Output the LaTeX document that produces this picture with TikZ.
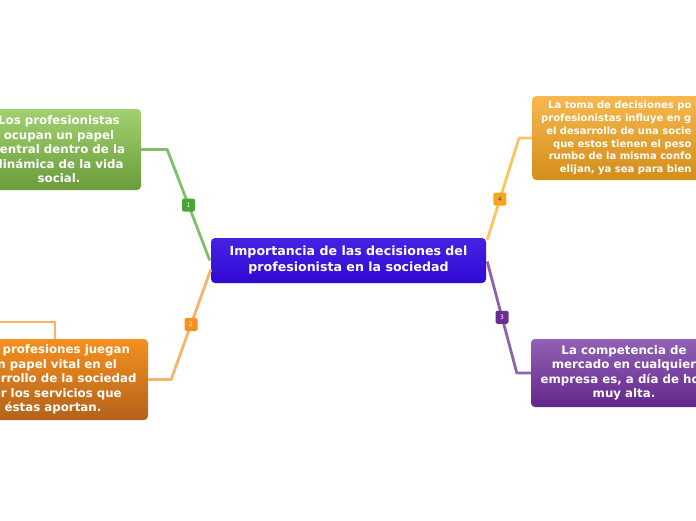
\documentclass[tikz,border=0pt]{standalone}
\usepackage{fontspec}
\setmainfont{DejaVu Sans}
\usetikzlibrary{calc}
\definecolor{azul}{HTML}{2F09D2}
\definecolor{azulalto}{HTML}{4722E4}
\definecolor{verde}{HTML}{6A9C3B}
\definecolor{verdealto}{HTML}{A1D070}
\definecolor{verdelinea}{HTML}{80BF6C}
\definecolor{verdemarca}{HTML}{4DA33A}
\definecolor{naranja}{HTML}{B2621B}
\definecolor{naranjaalto}{HTML}{F5901F}
\definecolor{naranjalinea}{HTML}{F8B26C}
\definecolor{naranjamarca}{HTML}{F7901E}
\definecolor{amarillo}{HTML}{D38E1B}
\definecolor{amarilloalto}{HTML}{F7B84E}
\definecolor{amarillolinea}{HTML}{FFC45E}
\definecolor{amarillomarca}{HTML}{F8A61C}
\definecolor{morado}{HTML}{63278B}
\definecolor{moradoalto}{HTML}{9262B6}
\definecolor{moradolinea}{HTML}{8C63AE}
\definecolor{moradomarca}{HTML}{6B2E8E}

\begin{document}
\begin{tikzpicture}[x=1pt,y=-1pt,
  idea/.style={rounded corners=4pt,align=center,text=white,inner sep=0pt,
               font=\bfseries\fontsize{11.8}{14.5}\selectfont},
  tema/.style={idea,font=\bfseries\fontsize{12.6}{16}\selectfont},
  marca/.style={rounded corners=2pt,minimum size=13pt,inner sep=0pt,text=white,
                font=\fontsize{6}{6}\selectfont},
  rama/.style={line width=2.8pt,line join=round}
]
  \useasboundingbox (0,0) rectangle (696,520);

  \node[tema,top color=azulalto,bottom color=azul,minimum width=275pt,minimum height=45pt]
    (imp) at (348.5,260.5) {Importancia de las decisiones del\\profesionista en la sociedad};

  \node[idea,top color=verdealto,bottom color=verde,minimum width=164pt,minimum height=81pt]
    (vida) at (59,149.5) {Los profesionistas\\ocupan un papel\\central dentro de la\\dinámica de la vida\\social.};
  \node[idea,top color=naranjaalto,bottom color=naranja,minimum width=190pt,minimum height=81pt]
    (prof) at (53,379.5) {Las profesiones juegan\\un papel vital en el\\desarrollo de la sociedad\\por los servicios que\\éstas aportan.};
  \node[idea,font=\bfseries\fontsize{10}{12.7}\selectfont,align=right,anchor=west,inner xsep=9pt,
        minimum height=84pt,top color=amarilloalto,bottom color=amarillo]
    (toma) at (532,138) {La toma de decisiones po\\profesionistas influye en g\\el desarrollo de una socie\\que estos tienen el peso\\rumbo de la misma confo\\elijan, ya sea para bien};
  \node[idea,top color=moradoalto,bottom color=morado,minimum width=186pt,minimum height=68pt]
    (merc) at (624,373) {La competencia de\\mercado en cualquier\\empresa es, a día de hoy\\muy alta.};

  \coordinate (fuera) at (-10,322);

  % ramas
  \draw[rama,verdelinea] (vida.east) -- ++(26,0)
    -- node[marca,fill=verdemarca] (m1) {1} ($(imp.west)+(-1,0)$);
  \draw[rama,naranjalinea] (prof.east) -- ++(23,0)
    -- node[marca,fill=naranjamarca] (m2) {2} ($(imp.west)+(0,9)$);
  \draw[rama,naranjalinea] ($(prof.north)+(2,0)$) |- (fuera);
  \draw[rama,amarillolinea] (toma.west) -- ++(-13,0)
    -- node[marca,fill=amarillomarca,text=black!70,pos=0.6] (m4) {4} ($(imp.north east)+(1,2)$);
  \draw[rama,moradolinea] ($(imp.east)+(1,1)$)
    -- node[marca,fill=moradomarca] (m3) {3} ($(merc.west)+(-14,0)$) -- (merc.west);
\end{tikzpicture}
\end{document}
